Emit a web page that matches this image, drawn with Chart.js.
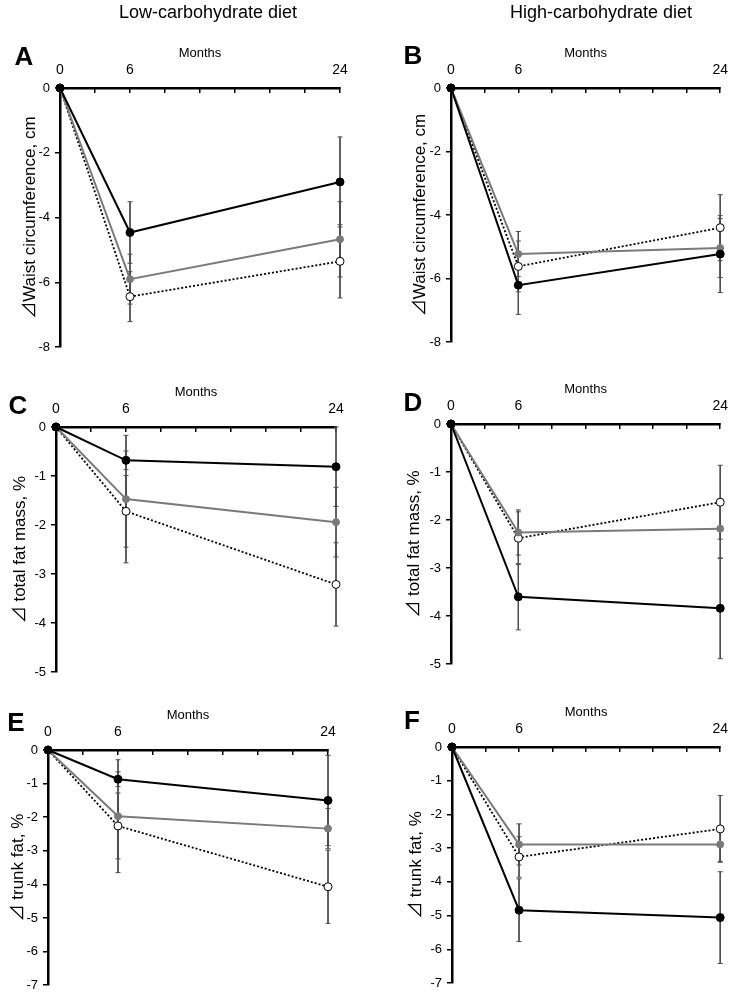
<!DOCTYPE html>
<html>
<head>
<meta charset="utf-8">
<script src="https://cdn.jsdelivr.net/npm/chart.js@4.4.1/dist/chart.umd.min.js"></script>
<style>
  body { margin: 0; background: #fff; }
  #page { position: relative; width: 742px; height: 998px; overflow: hidden; font-family: 'Liberation Sans', Arial, sans-serif; color: #000; }
  canvas { position: absolute; }
  .head { position: absolute; font-size: 18px; transform: translate(-50%, -50%); white-space: nowrap; }
  .tag { position: absolute; font-size: 26px; font-weight: bold; transform: translate(-50%, -50%); }
</style>
</head>
<body>
<div id="page">
  <div class="head" style="left:208px; top:12px">Low-carbohydrate diet</div>
  <div class="head" style="left:601px; top:12px">High-carbohydrate diet</div>
  <div class="tag" style="left:24px; top:56px">A</div>
  <div class="tag" style="left:413px; top:55px">B</div>
  <div class="tag" style="left:18px; top:405px">C</div>
  <div class="tag" style="left:413px; top:402px">D</div>
  <div class="tag" style="left:16px; top:722px">E</div>
  <div class="tag" style="left:412px; top:720px">F</div>
</div>
<script>
// x axis: months, tick marks every 3, labels only at the measurement points
const months = [0, 6, 24];
const monthTicks = [0, 3, 6, 9, 12, 15, 18, 21, 24];

const waistTicks = [0, -2, -4, -6, -8];
const fatMassTicks = [0, -1, -2, -3, -4, -5];
const trunkTicks = [0, -1, -2, -3, -4, -5, -6, -7];

// A - waist, low-carbohydrate
const waistLowBlack = [0, -4.46, -2.90];
const waistLowBlackErr = [0, 0.95, 1.39];
const waistLowGray = [0, -5.90, -4.67];
const waistLowGrayErr = [0, 0.77, 1.16];
const waistLowOpen = [0, -6.44, -5.35];
const waistLowOpenErr = [0, 0.77, 1.13];

// B - waist, high-carbohydrate
const waistHighBlack = [0, -6.21, -5.23];
const waistHighBlackErr = [0, 0.92, 1.21];
const waistHighGray = [0, -5.23, -5.04];
const waistHighGrayErr = [0, 0.71, 0.93];
const waistHighOpen = [0, -5.62, -4.40];
const waistHighOpenErr = [0, 0.80, 1.04];

// C - total fat mass, low-carbohydrate
const fatLowBlack = [0, -0.68, -0.81];
const fatLowBlackErr = [0, 0.19, 0.81];
const fatLowGray = [0, -1.47, -1.94];
const fatLowGrayErr = [0, 1.30, 0.71];
const fatLowOpen = [0, -1.72, -3.21];
const fatLowOpenErr = [0, 0.73, 0.85];

// D - total fat mass, high-carbohydrate
const fatHighBlack = [0, -3.60, -3.84];
const fatHighBlackErr = [0, 0.69, 1.05];
const fatHighGray = [0, -2.26, -2.18];
const fatHighGrayErr = [0, 0.47, 0.62];
const fatHighOpen = [0, -2.38, -1.63];
const fatHighOpenErr = [0, 0.55, 0.77];

// E - trunk fat, low-carbohydrate
const trunkLowBlack = [0, -0.87, -1.50];
const trunkLowBlackErr = [0, 0.22, 1.34];
const trunkLowGray = [0, -1.97, -2.34];
const trunkLowGrayErr = [0, 1.68, 0.60];
const trunkLowOpen = [0, -2.26, -4.07];
const trunkLowOpenErr = [0, 0.98, 1.09];

// F - trunk fat, high-carbohydrate
const trunkHighBlack = [0, -4.84, -5.06];
const trunkHighBlackErr = [0, 0.93, 1.36];
const trunkHighGray = [0, -2.89, -2.89];
const trunkHighGrayErr = [0, 0.61, 0.50];
const trunkHighOpen = [0, -3.26, -2.43];
const trunkHighOpenErr = [0, 0.60, 0.99];

Chart.defaults.font.family = "'Liberation Sans', Arial, 'Noto Sans CJK JP', sans-serif";
Chart.defaults.color = '#000';

const errColor = '#4d4d4d';
const blackStyle = { borderColor: '#000', borderWidth: 2, pointBackgroundColor: '#000', pointBorderColor: '#000', pointRadius: 4, pointBorderWidth: 1, order: 0 };
const grayStyle = { borderColor: '#7a7a7a', borderWidth: 2, pointBackgroundColor: '#7a7a7a', pointBorderColor: '#7a7a7a', pointRadius: 3.5, pointBorderWidth: 1, order: 1 };
const openStyle = { borderColor: '#000', borderWidth: 1.8, borderDash: [2, 2], pointBackgroundColor: '#fff', pointBorderColor: '#000', pointRadius: 4, pointBorderWidth: 1, order: 2 };

// canvas box [left, top, w, h], chart area [left, top, right, bottom] in page pixels
const panels = [
  { canvas: [0, 0, 371, 360], area: [60, 88, 340, 348], yTitle: '⊿Waist circumference, cm', titleGap: 30, yTicks: waistTicks,
    black: [waistLowBlack, waistLowBlackErr], gray: [waistLowGray, waistLowGrayErr], open: [waistLowOpen, waistLowOpenErr] },
  { canvas: [371, 0, 371, 360], area: [451, 88, 731, 342], yTitle: '⊿Waist circumference, cm', titleGap: 31, yTicks: waistTicks,
    black: [waistHighBlack, waistHighBlackErr], gray: [waistHighGray, waistHighGrayErr], open: [waistHighOpen, waistHighOpenErr] },
  { canvas: [0, 360, 371, 325], area: [56, 427, 336, 673], yTitle: '⊿ total fat mass, %', titleGap: 36, yTicks: fatMassTicks,
    black: [fatLowBlack, fatLowBlackErr], gray: [fatLowGray, fatLowGrayErr], open: [fatLowOpen, fatLowOpenErr] },
  { canvas: [371, 360, 371, 325], area: [451, 424, 731, 664], yTitle: '⊿ total fat mass, %', titleGap: 37, yTicks: fatMassTicks,
    black: [fatHighBlack, fatHighBlackErr], gray: [fatHighGray, fatHighGrayErr], open: [fatHighOpen, fatHighOpenErr] },
  { canvas: [0, 685, 371, 313], area: [48, 750, 328, 991], yTitle: '⊿ trunk fat, %', titleGap: 30, yTicks: trunkTicks,
    black: [trunkLowBlack, trunkLowBlackErr], gray: [trunkLowGray, trunkLowGrayErr], open: [trunkLowOpen, trunkLowOpenErr] },
  { canvas: [371, 685, 371, 313], area: [452, 747, 733, 983], yTitle: '⊿ trunk fat, %', titleGap: 36, yTicks: trunkTicks,
    black: [trunkHighBlack, trunkHighBlackErr], gray: [trunkHighGray, trunkHighGrayErr], open: [trunkHighOpen, trunkHighOpenErr] }
];

function line(values, style) {
  return Object.assign({
    data: months.map((m, i) => ({ x: m, y: values[i] })),
    tension: 0, clip: false, pointStyle: 'circle', pointHoverRadius: style.pointRadius
  }, style);
}

function errorBars(values, errs) {
  const sets = [];
  months.forEach((m, i) => {
    if (!errs[i]) return;
    sets.push({
      data: [{ x: m, y: values[i] + errs[i] }, { x: m, y: values[i] - errs[i] }],
      borderColor: errColor, borderWidth: 1, clip: false,
      pointStyle: 'line', pointRadius: 2.5, pointHoverRadius: 2.5,
      pointBorderColor: errColor, pointBorderWidth: 1, order: 5
    });
  });
  return sets;
}

const page = document.getElementById('page');

panels.forEach(p => {
  const [cl, ct, cw, ch] = p.canvas;
  const [al, at, ar, ab] = p.area;
  const canvas = document.createElement('canvas');
  canvas.width = cw;
  canvas.height = ch;
  canvas.style.left = cl + 'px';
  canvas.style.top = ct + 'px';
  page.insertBefore(canvas, page.firstChild);

  const xH = at - ct;
  const yW = al - cl;

  const datasets = [
    line(p.black[0], blackStyle),
    line(p.gray[0], grayStyle),
    line(p.open[0], openStyle),
    ...errorBars(p.black[0], p.black[1]),
    ...errorBars(p.gray[0], p.gray[1]),
    ...errorBars(p.open[0], p.open[1])
  ];

  new Chart(canvas, {
    type: 'line',
    data: { datasets },
    options: {
      responsive: false,
      animation: false,
      devicePixelRatio: 1,
      layout: { padding: { left: 0, top: 0, right: cw - (ar - cl), bottom: ch - (ab - ct) } },
      plugins: { legend: { display: false }, tooltip: { enabled: false } },
      scales: {
        x: {
          type: 'linear', position: 'top', min: 0, max: 24,
          afterBuildTicks: s => { s.ticks = monthTicks.map(v => ({ value: v })); },
          afterFit: s => { s.height = xH; },
          ticks: {
            autoSkip: false, maxRotation: 0, padding: 14,
            font: { size: 14 }, color: '#000',
            callback: v => months.includes(v) ? String(v) : ''
          },
          grid: { drawOnChartArea: false, drawTicks: true, tickLength: -5, color: '#000', lineWidth: 1.5 },
          border: { color: '#000', width: 2.5 },
          title: { display: true, text: 'Months', font: { size: 13 }, color: '#000', padding: { top: xH - 35 - 7.8, bottom: 0 } }
        },
        y: {
          type: 'linear', min: p.yTicks[p.yTicks.length - 1], max: 0,
          afterBuildTicks: s => { s.ticks = p.yTicks.map(v => ({ value: v })); },
          afterFit: s => { s.width = yW; },
          ticks: { padding: 5, font: { size: 13 }, color: '#000', callback: v => String(v) },
          grid: { drawOnChartArea: false, drawTicks: true, tickLength: 5, color: '#000', lineWidth: 1.5 },
          border: { color: '#000', width: 2.5 },
          title: { display: true, text: p.yTitle, font: { size: 17 }, color: '#000', padding: { top: yW - p.titleGap - 10.2, bottom: 0 } }
        }
      }
    }
  });
});
</script>
</body>
</html>
